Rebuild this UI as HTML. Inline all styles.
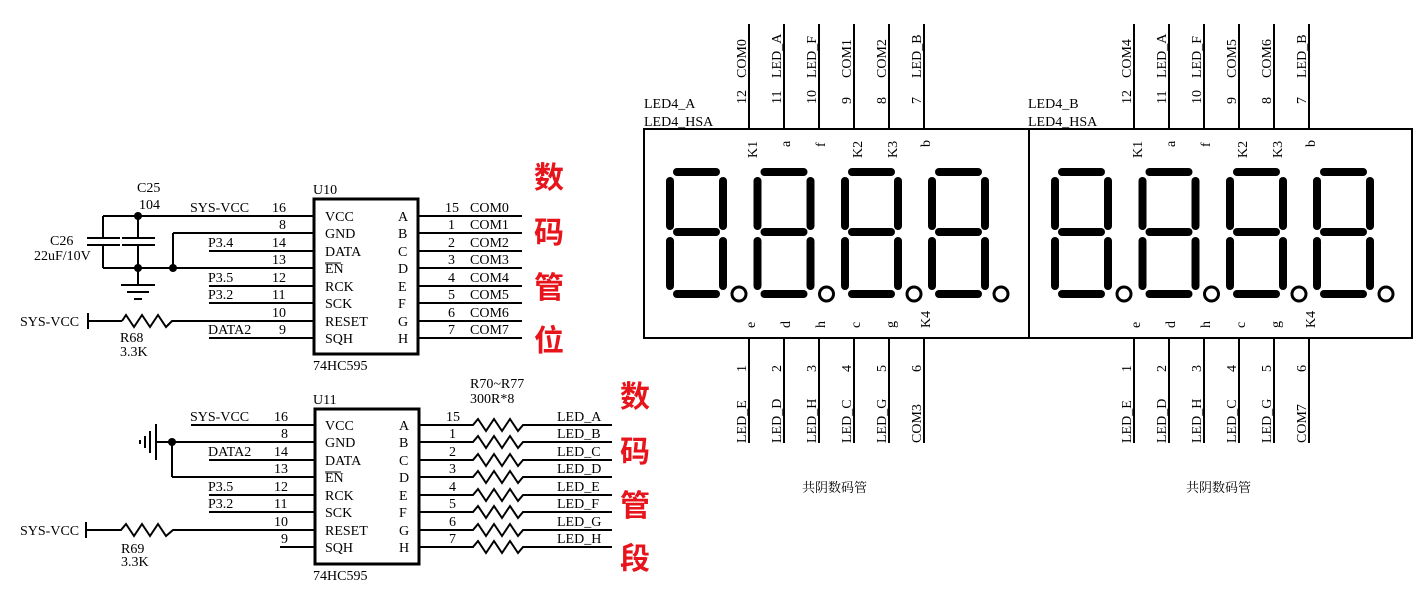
<!DOCTYPE html>
<html><head><meta charset="utf-8"><style>
html,body{margin:0;padding:0;background:#fff;}
svg{display:block;}
text{font-family:"Liberation Serif","Noto Serif CJK SC",serif;font-size:14px;fill:#000;}
.r{font-family:"Liberation Sans","Noto Sans CJK SC",sans-serif;font-size:30px;font-weight:bold;fill:#e8141c;}
.cap{font-family:"Liberation Serif","Noto Serif CJK SC",serif;font-size:13px;}
</style></head><body>
<svg width="1423" height="594" viewBox="0 0 1423 594" xmlns="http://www.w3.org/2000/svg">
<defs>
<g id="dig" stroke="#000" stroke-width="8" stroke-linecap="round" fill="none">
<line x1="677" y1="172" x2="716" y2="172"/>
<line x1="677" y1="232" x2="716" y2="232"/>
<line x1="677" y1="294" x2="716" y2="294"/>
<line x1="670" y1="181" x2="670" y2="226"/>
<line x1="670" y1="241" x2="670" y2="286"/>
<line x1="723" y1="181" x2="723" y2="226"/>
<line x1="723" y1="241" x2="723" y2="286"/>
<circle cx="739" cy="294" r="7" stroke-width="3"/>
</g>
<g id="disp">
<rect x="644" y="129" width="385" height="209" fill="none" stroke="#000" stroke-width="2"/>
<use href="#dig"/><use href="#dig" x="87.5"/><use href="#dig" x="175"/><use href="#dig" x="262"/>
<g stroke="#000" stroke-width="2">
<line x1="749" y1="24" x2="749" y2="129"/><line x1="784" y1="24" x2="784" y2="129"/><line x1="819" y1="24" x2="819" y2="129"/><line x1="854" y1="24" x2="854" y2="129"/><line x1="889" y1="24" x2="889" y2="129"/><line x1="924" y1="24" x2="924" y2="129"/>
<line x1="749" y1="338" x2="749" y2="443"/><line x1="784" y1="338" x2="784" y2="443"/><line x1="819" y1="338" x2="819" y2="443"/><line x1="854" y1="338" x2="854" y2="443"/><line x1="889" y1="338" x2="889" y2="443"/><line x1="924" y1="338" x2="924" y2="443"/>
</g>
<g>
<text transform="translate(746,104) rotate(-90)">12</text>
<text transform="translate(781,104) rotate(-90)">11</text>
<text transform="translate(816,104) rotate(-90)">10</text>
<text transform="translate(851,104) rotate(-90)">9</text>
<text transform="translate(886,104) rotate(-90)">8</text>
<text transform="translate(921,104) rotate(-90)">7</text>
<text transform="translate(746,158) rotate(-90)">K1</text>
<text transform="translate(781,148) rotate(-90)">a</text>
<text transform="translate(816,148) rotate(-90)">f</text>
<text transform="translate(851,158) rotate(-90)">K2</text>
<text transform="translate(886,158) rotate(-90)">K3</text>
<text transform="translate(921,148) rotate(-90)">b</text>
<text transform="translate(746,328) rotate(-90)">e</text>
<text transform="translate(781,328) rotate(-90)">d</text>
<text transform="translate(816,328) rotate(-90)">h</text>
<text transform="translate(851,328) rotate(-90)">c</text>
<text transform="translate(886,328) rotate(-90)">g</text>
<text transform="translate(921,328) rotate(-90)">K4</text>
<text transform="translate(746,372) rotate(-90)">1</text>
<text transform="translate(781,372) rotate(-90)">2</text>
<text transform="translate(816,372) rotate(-90)">3</text>
<text transform="translate(851,372) rotate(-90)">4</text>
<text transform="translate(886,372) rotate(-90)">5</text>
<text transform="translate(921,372) rotate(-90)">6</text>
<text transform="translate(746,443) rotate(-90)">LED_E</text>
<text transform="translate(781,443) rotate(-90)">LED_D</text>
<text transform="translate(816,443) rotate(-90)">LED_H</text>
<text transform="translate(851,443) rotate(-90)">LED_C</text>
<text transform="translate(886,443) rotate(-90)">LED_G</text>
<text transform="translate(746,76) rotate(-90)">LED_A</text>
<text transform="translate(781,76) rotate(-90)">LED_A</text>
</g>
</defs>

<!-- Display A -->
<rect x="644" y="129" width="385" height="209" fill="none" stroke="#000" stroke-width="2"/>
<use href="#dig"/><use href="#dig" x="87.5"/><use href="#dig" x="175"/><use href="#dig" x="262"/>
<!-- Display B -->
<rect x="1029" y="129" width="383" height="209" fill="none" stroke="#000" stroke-width="2"/>
<use href="#dig" x="385"/><use href="#dig" x="472.5"/><use href="#dig" x="560"/><use href="#dig" x="647"/>

<g stroke="#000" stroke-width="2">
<line x1="749" y1="24" x2="749" y2="129"/><line x1="784" y1="24" x2="784" y2="129"/><line x1="819" y1="24" x2="819" y2="129"/><line x1="854" y1="24" x2="854" y2="129"/><line x1="889" y1="24" x2="889" y2="129"/><line x1="924" y1="24" x2="924" y2="129"/>
<line x1="749" y1="338" x2="749" y2="443"/><line x1="784" y1="338" x2="784" y2="443"/><line x1="819" y1="338" x2="819" y2="443"/><line x1="854" y1="338" x2="854" y2="443"/><line x1="889" y1="338" x2="889" y2="443"/><line x1="924" y1="338" x2="924" y2="443"/>
<line x1="1134" y1="24" x2="1134" y2="129"/><line x1="1169" y1="24" x2="1169" y2="129"/><line x1="1204" y1="24" x2="1204" y2="129"/><line x1="1239" y1="24" x2="1239" y2="129"/><line x1="1274" y1="24" x2="1274" y2="129"/><line x1="1309" y1="24" x2="1309" y2="129"/>
<line x1="1134" y1="338" x2="1134" y2="443"/><line x1="1169" y1="338" x2="1169" y2="443"/><line x1="1204" y1="338" x2="1204" y2="443"/><line x1="1239" y1="338" x2="1239" y2="443"/><line x1="1274" y1="338" x2="1274" y2="443"/><line x1="1309" y1="338" x2="1309" y2="443"/>
</g>

<text x="644" y="108">LED4_A</text><text x="644" y="126">LED4_HSA</text>
<text x="1028" y="108">LED4_B</text><text x="1028" y="126">LED4_HSA</text>

<!-- Display A labels -->
<text transform="translate(746,104) rotate(-90)">12</text>
<text transform="translate(781,104) rotate(-90)">11</text>
<text transform="translate(816,104) rotate(-90)">10</text>
<text transform="translate(851,104) rotate(-90)">9</text>
<text transform="translate(886,104) rotate(-90)">8</text>
<text transform="translate(921,104) rotate(-90)">7</text>
<text transform="translate(746,78) rotate(-90)">COM0</text>
<text transform="translate(781,78) rotate(-90)">LED_A</text>
<text transform="translate(816,78) rotate(-90)">LED_F</text>
<text transform="translate(851,78) rotate(-90)">COM1</text>
<text transform="translate(886,78) rotate(-90)">COM2</text>
<text transform="translate(921,78) rotate(-90)">LED_B</text>
<text transform="translate(757,158) rotate(-90)">K1</text>
<text transform="translate(790,147) rotate(-90)">a</text>
<text transform="translate(825,147) rotate(-90)">f</text>
<text transform="translate(862,158) rotate(-90)">K2</text>
<text transform="translate(897,158) rotate(-90)">K3</text>
<text transform="translate(930,147) rotate(-90)">b</text>
<text transform="translate(755,328) rotate(-90)">e</text>
<text transform="translate(790,328) rotate(-90)">d</text>
<text transform="translate(825,328) rotate(-90)">h</text>
<text transform="translate(860,328) rotate(-90)">c</text>
<text transform="translate(895,328) rotate(-90)">g</text>
<text transform="translate(930,328) rotate(-90)">K4</text>
<text transform="translate(746,372) rotate(-90)">1</text>
<text transform="translate(781,372) rotate(-90)">2</text>
<text transform="translate(816,372) rotate(-90)">3</text>
<text transform="translate(851,372) rotate(-90)">4</text>
<text transform="translate(886,372) rotate(-90)">5</text>
<text transform="translate(921,372) rotate(-90)">6</text>
<text transform="translate(746,443) rotate(-90)">LED_E</text>
<text transform="translate(781,443) rotate(-90)">LED_D</text>
<text transform="translate(816,443) rotate(-90)">LED_H</text>
<text transform="translate(851,443) rotate(-90)">LED_C</text>
<text transform="translate(886,443) rotate(-90)">LED_G</text>
<text transform="translate(921,443) rotate(-90)">COM3</text>

<!-- Display B labels -->
<text transform="translate(1131,104) rotate(-90)">12</text>
<text transform="translate(1166,104) rotate(-90)">11</text>
<text transform="translate(1201,104) rotate(-90)">10</text>
<text transform="translate(1236,104) rotate(-90)">9</text>
<text transform="translate(1271,104) rotate(-90)">8</text>
<text transform="translate(1306,104) rotate(-90)">7</text>
<text transform="translate(1131,78) rotate(-90)">COM4</text>
<text transform="translate(1166,78) rotate(-90)">LED_A</text>
<text transform="translate(1201,78) rotate(-90)">LED_F</text>
<text transform="translate(1236,78) rotate(-90)">COM5</text>
<text transform="translate(1271,78) rotate(-90)">COM6</text>
<text transform="translate(1306,78) rotate(-90)">LED_B</text>
<text transform="translate(1142,158) rotate(-90)">K1</text>
<text transform="translate(1175,147) rotate(-90)">a</text>
<text transform="translate(1210,147) rotate(-90)">f</text>
<text transform="translate(1247,158) rotate(-90)">K2</text>
<text transform="translate(1282,158) rotate(-90)">K3</text>
<text transform="translate(1315,147) rotate(-90)">b</text>
<text transform="translate(1140,328) rotate(-90)">e</text>
<text transform="translate(1175,328) rotate(-90)">d</text>
<text transform="translate(1210,328) rotate(-90)">h</text>
<text transform="translate(1245,328) rotate(-90)">c</text>
<text transform="translate(1280,328) rotate(-90)">g</text>
<text transform="translate(1315,328) rotate(-90)">K4</text>
<text transform="translate(1131,372) rotate(-90)">1</text>
<text transform="translate(1166,372) rotate(-90)">2</text>
<text transform="translate(1201,372) rotate(-90)">3</text>
<text transform="translate(1236,372) rotate(-90)">4</text>
<text transform="translate(1271,372) rotate(-90)">5</text>
<text transform="translate(1306,372) rotate(-90)">6</text>
<text transform="translate(1131,443) rotate(-90)">LED_E</text>
<text transform="translate(1166,443) rotate(-90)">LED_D</text>
<text transform="translate(1201,443) rotate(-90)">LED_H</text>
<text transform="translate(1236,443) rotate(-90)">LED_C</text>
<text transform="translate(1271,443) rotate(-90)">LED_G</text>
<text transform="translate(1306,443) rotate(-90)">COM7</text>

<text class="cap" x="802" y="492">共阴数码管</text>
<text class="cap" x="1186" y="492">共阴数码管</text>

<!-- Red labels -->
<text class="r" x="534" y="188">数</text>
<text class="r" x="534" y="243">码</text>
<text class="r" x="534" y="298">管</text>
<text class="r" x="534" y="351">位</text>
<text class="r" x="620" y="407">数</text>
<text class="r" x="620" y="462">码</text>
<text class="r" x="620" y="516">管</text>
<text class="r" x="620" y="569">段</text>

<!-- U10 -->
<rect x="314" y="199" width="104" height="155" fill="none" stroke="#000" stroke-width="3"/>
<text x="313" y="194">U10</text>
<text x="313" y="370">74HC595</text>
<g stroke="#000" stroke-width="2" fill="none">
<line x1="103" y1="216" x2="314" y2="216"/>
<line x1="173" y1="233" x2="314" y2="233"/>
<line x1="173" y1="233" x2="173" y2="268"/>
<line x1="209" y1="251" x2="314" y2="251"/>
<line x1="103" y1="268" x2="314" y2="268"/>
<line x1="209" y1="286" x2="314" y2="286"/>
<line x1="209" y1="303" x2="314" y2="303"/>
<line x1="88" y1="321" x2="122" y2="321"/>
<polyline points="122,321 126,315 134,327 142,315 150,327 158,315 166,327 172,321 314,321"/>
<line x1="88" y1="313" x2="88" y2="329"/>
<line x1="209" y1="338" x2="314" y2="338"/>
<line x1="103" y1="216" x2="103" y2="238"/><line x1="103" y1="245" x2="103" y2="268"/>
<line x1="138" y1="216" x2="138" y2="238"/><line x1="138" y1="245" x2="138" y2="285"/>
<line x1="87" y1="238" x2="120" y2="238"/><line x1="87" y1="245" x2="120" y2="245"/>
<line x1="122" y1="238" x2="155" y2="238"/><line x1="122" y1="245" x2="155" y2="245"/>
<line x1="121" y1="285" x2="155" y2="285"/><line x1="127" y1="292" x2="149" y2="292"/><line x1="134" y1="299" x2="142" y2="299"/>
<line x1="418" y1="216" x2="522" y2="216"/><line x1="418" y1="233" x2="522" y2="233"/><line x1="418" y1="251" x2="522" y2="251"/><line x1="418" y1="268" x2="522" y2="268"/>
<line x1="418" y1="286" x2="522" y2="286"/><line x1="418" y1="303" x2="522" y2="303"/><line x1="418" y1="321" x2="522" y2="321"/><line x1="418" y1="338" x2="522" y2="338"/>
<line x1="325" y1="263" x2="341" y2="263" stroke-width="1"/>
</g>
<g fill="#000"><circle cx="138" cy="216" r="4"/><circle cx="138" cy="268" r="4"/><circle cx="173" cy="268" r="4"/></g>
<text x="137" y="192">C25</text><text x="139" y="209">104</text>
<text x="50" y="245">C26</text><text x="34" y="260">22uF/10V</text>
<text x="190" y="212">SYS-VCC</text>
<text x="208" y="247">P3.4</text><text x="208" y="282">P3.5</text><text x="208" y="299">P3.2</text><text x="208" y="334">DATA2</text>
<text x="20" y="326">SYS-VCC</text>
<text x="120" y="342">R68</text><text x="120" y="356">3.3K</text>
<text x="272" y="212">16</text><text x="279" y="229">8</text><text x="272" y="247">14</text><text x="272" y="264">13</text>
<text x="272" y="282">12</text><text x="272" y="299">11</text><text x="272" y="317">10</text><text x="279" y="334">9</text>
<text x="325" y="221">VCC</text><text x="325" y="238">GND</text><text x="325" y="256">DATA</text><text x="325" y="273">EN</text>
<text x="325" y="291">RCK</text><text x="325" y="308">SCK</text><text x="325" y="326">RESET</text><text x="325" y="343">SQH</text>
<text x="398" y="221">A</text><text x="398" y="238">B</text><text x="398" y="256">C</text><text x="398" y="273">D</text>
<text x="398" y="291">E</text><text x="398" y="308">F</text><text x="398" y="326">G</text><text x="398" y="343">H</text>
<text x="445" y="212">15</text><text x="448" y="229">1</text><text x="448" y="247">2</text><text x="448" y="264">3</text>
<text x="448" y="282">4</text><text x="448" y="299">5</text><text x="448" y="317">6</text><text x="448" y="334">7</text>
<text x="470" y="212">COM0</text><text x="470" y="229">COM1</text><text x="470" y="247">COM2</text><text x="470" y="264">COM3</text>
<text x="470" y="282">COM4</text><text x="470" y="299">COM5</text><text x="470" y="317">COM6</text><text x="470" y="334">COM7</text>

<!-- U11 -->
<rect x="315" y="409" width="104" height="155" fill="none" stroke="#000" stroke-width="3"/>
<text x="313" y="404">U11</text>
<text x="313" y="580">74HC595</text>
<text x="470" y="388">R70~R77</text><text x="470" y="403">300R*8</text>
<g stroke="#000" stroke-width="2" fill="none">
<line x1="191" y1="425" x2="315" y2="425"/>
<line x1="156" y1="442" x2="315" y2="442"/>
<line x1="172" y1="442" x2="172" y2="477"/><line x1="172" y1="477" x2="315" y2="477"/>
<line x1="209" y1="460" x2="315" y2="460"/>
<line x1="209" y1="495" x2="315" y2="495"/>
<line x1="209" y1="512" x2="315" y2="512"/>
<line x1="86" y1="522" x2="86" y2="538"/>
<polyline points="86,530 121,530 126,524 134,536 142,524 150,536 158,524 166,536 173,530 315,530"/>
<line x1="280" y1="547" x2="315" y2="547"/>
<line x1="156" y1="424" x2="156" y2="460"/><line x1="150" y1="431" x2="150" y2="453"/><line x1="145" y1="436" x2="145" y2="448"/><line x1="140" y1="440" x2="140" y2="444"/>
<line x1="325" y1="472" x2="341" y2="472" stroke-width="1"/>
<polyline points="419,425 473,425 478,419 486,431 494,419 502,431 510,419 518,431 523,425 612,425"/>
<polyline points="419,442 473,442 478,436 486,448 494,436 502,448 510,436 518,448 523,442 612,442"/>
<polyline points="419,460 473,460 478,454 486,466 494,454 502,466 510,454 518,466 523,460 612,460"/>
<polyline points="419,477 473,477 478,471 486,483 494,471 502,483 510,471 518,483 523,477 612,477"/>
<polyline points="419,495 473,495 478,489 486,501 494,489 502,501 510,489 518,501 523,495 612,495"/>
<polyline points="419,512 473,512 478,506 486,518 494,506 502,518 510,506 518,518 523,512 612,512"/>
<polyline points="419,530 473,530 478,524 486,536 494,524 502,536 510,524 518,536 523,530 612,530"/>
<polyline points="419,547 473,547 478,541 486,553 494,541 502,553 510,541 518,553 523,547 612,547"/>
</g>
<circle cx="172" cy="442" r="4" fill="#000"/>
<text x="190" y="421">SYS-VCC</text>
<text x="208" y="456">DATA2</text><text x="208" y="491">P3.5</text><text x="208" y="508">P3.2</text>
<text x="20" y="535">SYS-VCC</text>
<text x="121" y="553">R69</text><text x="121" y="566">3.3K</text>
<text x="274" y="421">16</text><text x="281" y="438">8</text><text x="274" y="456">14</text><text x="274" y="473">13</text>
<text x="274" y="491">12</text><text x="274" y="508">11</text><text x="274" y="526">10</text><text x="281" y="543">9</text>
<text x="325" y="430">VCC</text><text x="325" y="447">GND</text><text x="325" y="465">DATA</text><text x="325" y="482">EN</text>
<text x="325" y="500">RCK</text><text x="325" y="517">SCK</text><text x="325" y="535">RESET</text><text x="325" y="552">SQH</text>
<text x="399" y="430">A</text><text x="399" y="447">B</text><text x="399" y="465">C</text><text x="399" y="482">D</text>
<text x="399" y="500">E</text><text x="399" y="517">F</text><text x="399" y="535">G</text><text x="399" y="552">H</text>
<text x="446" y="421">15</text><text x="449" y="438">1</text><text x="449" y="456">2</text><text x="449" y="473">3</text>
<text x="449" y="491">4</text><text x="449" y="508">5</text><text x="449" y="526">6</text><text x="449" y="543">7</text>
<text x="557" y="421">LED_A</text><text x="557" y="438">LED_B</text><text x="557" y="456">LED_C</text><text x="557" y="473">LED_D</text>
<text x="557" y="491">LED_E</text><text x="557" y="508">LED_F</text><text x="557" y="526">LED_G</text><text x="557" y="543">LED_H</text>
</svg>
</body></html>
